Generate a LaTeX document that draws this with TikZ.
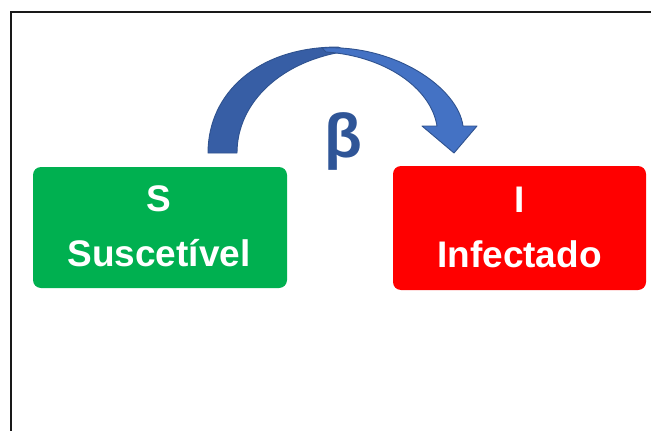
\documentclass[tikz,border=0pt]{standalone}
\usepackage{fontspec}
\setmainfont{Liberation Sans}
\definecolor{sgreen}{HTML}{00B050}
\definecolor{ired}{HTML}{FF0000}
\definecolor{arrowlight}{HTML}{4472C4}
\definecolor{arrowdark}{HTML}{375EA5}
\definecolor{arrowedge}{HTML}{2F528F}
\definecolor{betablue}{HTML}{2F5597}
\begin{document}
\begin{tikzpicture}[x=1pt,y=-1pt,
  box/.style={rounded corners=8pt, inner sep=0pt, draw=none},
  lbl/.style={text=white, font=\bfseries\fontsize{37}{44}\selectfont, anchor=base, inner sep=0pt},
  arrowpart/.style={draw=arrowedge, line width=0.9pt, line join=round}]
  \useasboundingbox (0,0) rectangle (651,431);

  % frame
  \draw[line width=2pt, black!90] (11.3,440) -- (11.3,11.5) -- (660,11.5);

  % compartments
  \node[box, fill=sgreen, minimum width=254pt, minimum height=121pt] (S) at (160,227.5) {};
  \node[box, fill=ired, minimum width=253pt, minimum height=124pt] (I) at (519.5,228) {};

  \node[lbl] (Sa) at (159,211) {S};
  \node[lbl] (Sb) at (159,266) {Suscetível};
  \node[lbl] (Ia) at (519.5,212) {I};
  \node[lbl] (Ib) at (519.5,267) {Infectado};

  % curved block arrow: back part
  \filldraw[arrowpart, fill=arrowdark]
    (208,153) .. controls (208,93) and (258,47) .. (338,47)
    -- (348,51) .. controls (282,60) and (237,102) .. (237,153) -- cycle;
  % curved block arrow: front part with head
  \filldraw[arrowpart, fill=arrowlight]
    (322,48) .. controls (395,44) and (458,88) .. (463,126)
    -- (477,126) -- (454,153) -- (422,126) -- (437,126)
    .. controls (431,88) and (385,56) .. (326,52) -- cycle;

  \node[text=betablue, font=\bfseries\fontsize{62}{70}\selectfont, inner sep=0pt] (beta) at (343.5,141) {β};
\end{tikzpicture}
\end{document}
